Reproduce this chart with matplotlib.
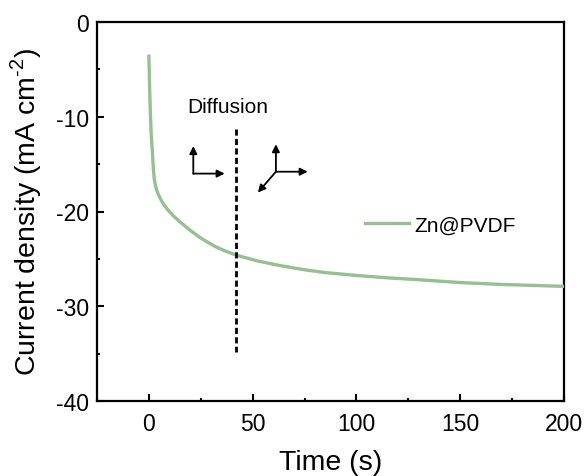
import matplotlib
matplotlib.use("Agg")
import matplotlib.pyplot as plt
from matplotlib.ticker import MultipleLocator

plt.rcParams['font.family'] = ['Liberation Sans', 'DejaVu Sans']
plt.rcParams['mathtext.fontset'] = 'custom'
plt.rcParams['mathtext.rm'] = 'Liberation Sans'
plt.rcParams['axes.unicode_minus'] = False

# Data
time_s = [0, 0.3, 0.7, 1.1, 1.6, 2.1, 2.6, 3.2, 4, 5, 6, 7.5, 9, 12, 15, 20, 25, 28,
          32, 36, 42, 52, 63, 75, 85, 100, 115, 130, 150, 170, 185, 200]
current = [-3.6, -6.5, -9.5, -11.8, -13.4, -15.3, -16.6, -17.3, -17.9, -18.4, -18.85,
           -19.35, -19.8, -20.5, -21.1, -22.0, -22.8, -23.2, -23.7, -24.1, -24.6,
           -25.2, -25.7, -26.15, -26.45, -26.75, -27.0, -27.2, -27.5, -27.7, -27.8,
           -27.9]
series_label = "Zn@PVDF"
divider_t = 42
divider_range = [-11.3, -34.8]
annotation_text = "Diffusion"
annotation_pos = (18.7, -8.9)
# arrow segments: (start, end) in data coordinates
arrows = [((21.4, -16.0), (21.4, -13.1)),
          ((21.4, -16.0), (36.5, -16.0)),
          ((61.2, -15.8), (61.2, -12.9)),
          ((61.2, -15.8), (76.5, -15.8)),
          ((61.2, -15.8), (52.5, -18.0))]
xticks = [0, 50, 100, 150, 200]
yticks = [0, -10, -20, -30, -40]

fig = plt.figure(figsize=(5.86, 4.77), dpi=100)
ax = fig.add_axes([97/586, 1 - 402/477, (564-97)/586, (402-23)/477])

ax.plot(time_s, current, color='#98BE94', lw=2.4, label=series_label, zorder=3,
        solid_joinstyle='round')
ax.plot([divider_t, divider_t], divider_range, color='black', lw=2.0,
        linestyle=(0, (2.2, 1.2)), zorder=4)
ax.text(annotation_pos[0], annotation_pos[1], annotation_text, fontsize=15,
        ha='left', va='center')
for (s, e) in arrows:
    ax.annotate('', xy=e, xytext=s,
                arrowprops=dict(arrowstyle='-|>', color='black', lw=1.3,
                                mutation_scale=11, shrinkA=0, shrinkB=0))

ax.set_xlim(-25, 200)
ax.set_ylim(-40, 0)
ax.set_xticks(xticks)
ax.set_yticks(yticks)
ax.xaxis.set_minor_locator(MultipleLocator(25))
ax.yaxis.set_minor_locator(MultipleLocator(5))
ax.tick_params(which='both', direction='in', top=False, right=False, width=1.5,
               labelsize=16.5)
ax.tick_params(which='major', length=5)
ax.tick_params(which='minor', length=2.5)
ax.tick_params(axis='x', pad=8)
ax.tick_params(axis='y', pad=6)
for sp in ax.spines.values():
    sp.set_linewidth(1.6)

ax.set_xlabel('Time (s)', fontsize=20.5, labelpad=10)
ax.set_ylabel(r'Current density (mA cm$^{\text{-2}}$)', fontsize=20.5, labelpad=8)

ax.legend(loc='center left', bbox_to_anchor=(0.574, 0.465), frameon=False,
          fontsize=15, handlelength=2.1, handletextpad=0.25, borderpad=0,
          borderaxespad=0)

fig.savefig('out.png', dpi=100)
